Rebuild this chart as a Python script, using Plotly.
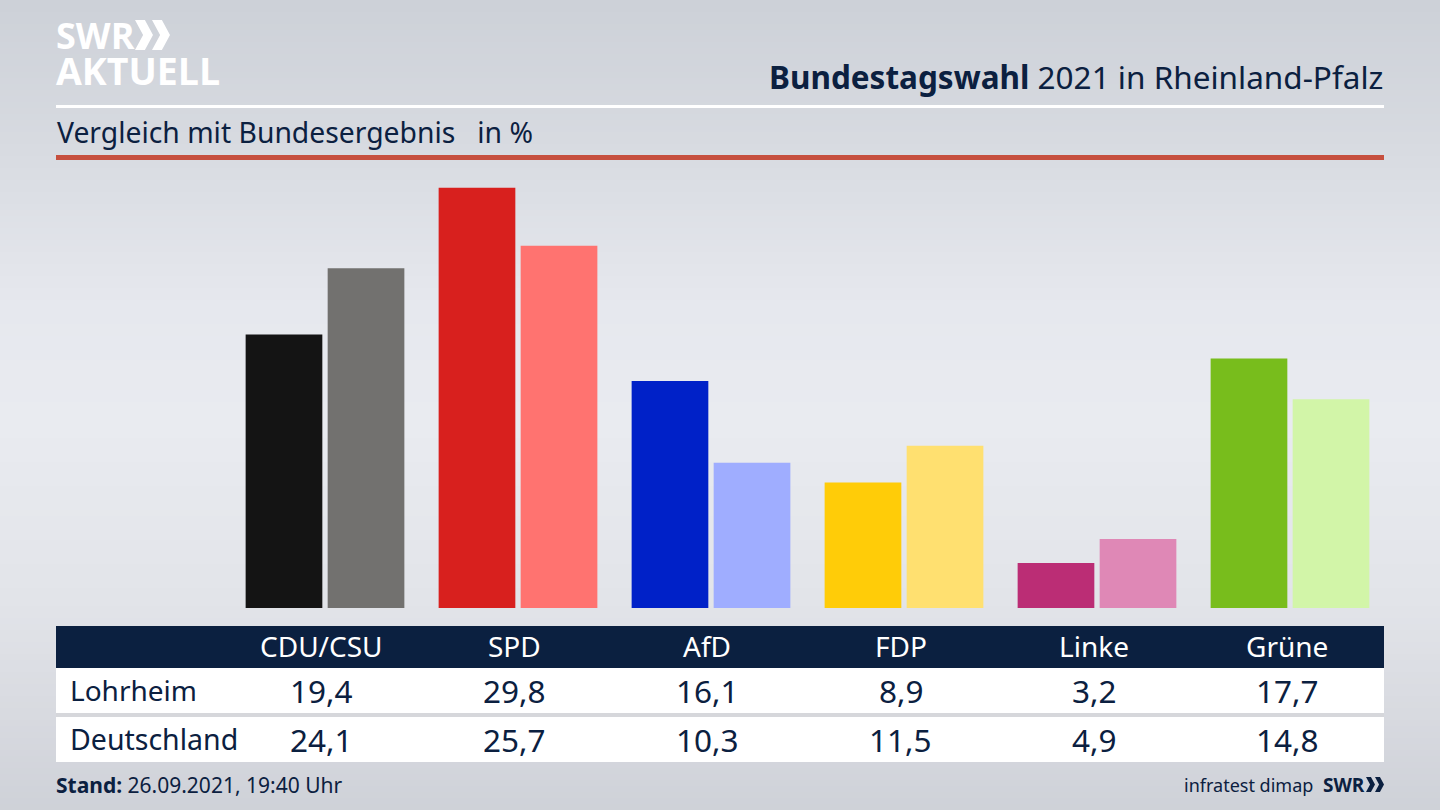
import plotly.graph_objects as go

parties = ["CDU/CSU", "SPD", "AfD", "FDP", "Linke", "Grüne"]
lohrheim = [19.4, 29.8, 16.1, 8.9, 3.2, 17.7]
deutschland = [24.1, 25.7, 10.3, 11.5, 4.9, 14.8]
colors_lohrheim = ["#141414", "#d8201e", "#0021c8", "#ffcc08", "#bb2d75", "#78bd1c"]
colors_deutschland = ["#72716f", "#ff7370", "#9fadff", "#ffe070", "#df88b6", "#d2f5a8"]
row_names = ["Lohrheim", "Deutschland"]

W, H = 1440, 810
NAVY = "#0b2040"
FONT = "Noto Sans"


def px(x):
    return x / W


def py(y):
    return 1 - y / H


def rect(x0, y0, x1, y1, color, layer="below"):
    return dict(type="rect", xref="paper", yref="paper", x0=px(x0), x1=px(x1), y0=py(y0), y1=py(y1),
                fillcolor=color, line=dict(width=0), layer=layer)


def text(x, y, s, size, color=NAVY, anchor="center", family=FONT):
    return dict(xref="paper", yref="paper", x=px(x), y=py(y), text=s, showarrow=False,
                xanchor=anchor, yanchor="middle", align=anchor,
                font=dict(family=family, size=size, color=color))


def chevron(x, y, w, h, color):
    d = (f"M {px(x)} {py(y)} L {px(x + w * .55)} {py(y)} L {px(x + w)} {py(y + h / 2)} "
         f"L {px(x + w * .55)} {py(y + h)} L {px(x)} {py(y + h)} L {px(x + w * .45)} {py(y + h / 2)} Z")
    return dict(type="path", xref="paper", yref="paper", path=d, fillcolor=color,
                line=dict(width=0), layer="above")


# vertical background gradient, painted top to bottom with overlapping bands
stops = [(0, (205, 209, 216)), (150, (216, 219, 225)), (300, (230, 232, 238)), (420, (233, 235, 240)),
         (600, (226, 228, 233)), (720, (215, 217, 223)), (810, (206, 209, 216))]
shapes = []
for y in range(0, H, 6):
    for (a, ca), (b, cb) in zip(stops, stops[1:]):
        if a <= y <= b:
            t = (y - a) / (b - a)
            c = [round(ca[i] + (cb[i] - ca[i]) * t) for i in range(3)]
            shapes.append(rect(0, y, W, H, f"rgb({c[0]},{c[1]},{c[2]})"))
            break

shapes += [
    rect(56, 105, 1384, 108, "#ffffff"),
    rect(56, 155, 1384, 160, "#c64f3e"),
    rect(56, 626, 1384, 668, NAVY),
    rect(56, 668, 1384, 713, "#ffffff"),
    rect(56, 713, 1384, 717, "#d6d7db"),
    rect(56, 717, 1384, 762, "#ffffff"),
    chevron(135, 20, 18, 30, "#ffffff"),
    chevron(152, 20, 18, 30, "#ffffff"),
    chevron(1366, 777, 9, 15, NAVY),
    chevron(1375, 777, 9, 15, NAVY),
]

annotations = [
    text(54, 54, '<b><span style="font-size:36px">SWR</span><br>'
                 '<span style="font-size:37.5px">AKTUELL</span></b>', 28, "#ffffff", "left", "Open Sans"),
    text(1385, 76, "<b>Bundestagswahl</b> 2021 in Rheinland-Pfalz", 31.5, NAVY, "right"),
    text(55, 132, "Vergleich mit Bundesergebnis&nbsp;&nbsp; in %", 28.3, NAVY, "left"),
    text(68, 690, row_names[0], 28, NAVY, "left"),
    text(68, 739, row_names[1], 28.5, NAVY, "left"),
    text(54, 785, "<b>Stand:</b> 26.09.2021, 19:40 Uhr", 21, NAVY, "left"),
    text(1315, 785, "infratest dimap", 18, NAVY, "right"),
    text(1367, 785, "<b>SWR</b>", 19, NAVY, "right", "Open Sans"),
]
for i, party in enumerate(parties):
    cx = 321 + 193.2 * i
    annotations.append(text(cx, 646, party, 28, "#ffffff"))
    annotations.append(text(cx, 690, f"{lohrheim[i]:.1f}".replace(".", ","), 31.5))
    annotations.append(text(cx, 739, f"{deutschland[i]:.1f}".replace(".", ","), 31.5))

fig = go.Figure()
fig.add_bar(name=row_names[0], x=parties, y=lohrheim, marker=dict(color=colors_lohrheim, line=dict(width=0)))
fig.add_bar(name=row_names[1], x=parties, y=deutschland, marker=dict(color=colors_deutschland, line=dict(width=0)))

fig.update_layout(
    width=W, height=H, margin=dict(l=0, r=0, t=0, b=0), autosize=False,
    paper_bgcolor="#dfe1e6", plot_bgcolor="rgba(0,0,0,0)",
    barmode="group", bargap=0.15, bargroupgap=0.065, showlegend=False,
    shapes=shapes, annotations=annotations,
    xaxis=dict(domain=[228.5 / W, 1386.5 / W], visible=False, type="category", fixedrange=True),
    yaxis=dict(domain=[py(608), py(160)], range=[0, 448 / 14.1], visible=False, fixedrange=True),
)
fig.write_html("out.html", config=dict(displayModeBar=False),
               post_script="document.body.style.margin='0';document.body.style.overflow='hidden';")
